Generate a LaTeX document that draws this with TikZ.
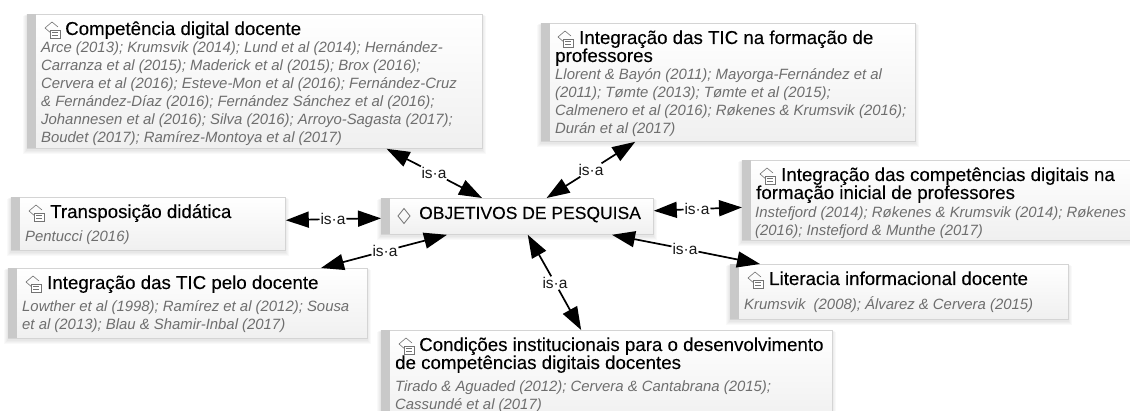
\documentclass[tikz,border=0pt]{standalone}
\usepackage{fontspec}
\setmainfont{Liberation Sans}
\newfontface\titlefont[FakeBold=0.12]{Liberation Sans}
\usetikzlibrary{arrows.meta}
\definecolor{barc}{HTML}{C9C9C9}
\definecolor{edgec}{HTML}{D4D4D4}
\definecolor{bodyc}{HTML}{6E6E6E}
\tikzset{
  x=1pt,y=-1pt,
  boxbase/.style={rectangle,draw=edgec,line width=0.8pt,top color=white,bottom color=black!6,anchor=north west,inner sep=0pt},
  softshadow/.style={fill=black,opacity=0.025,draw=none},
  leftbar/.style={fill=barc,draw=none},
  titletext/.style={anchor=base west,inner sep=0pt,font=\titlefont\fontsize{18.7}{18}\selectfont,text=black},
  objtext/.style={anchor=base west,inner sep=0pt,font=\titlefont\fontsize{17.5}{18}\selectfont,text=black},
  bodytext/.style={anchor=base west,inner sep=0pt,font=\fontsize{14.9}{18}\selectfont\itshape,text=bodyc},
  isalabel/.style={fill=white,inner sep=0.8pt,font=\fontsize{15.5}{16}\selectfont,text=black!90},
  isa/.style={-{Triangle[length=23pt,width=16pt]},line width=1.7pt,black},
  iconline/.style={draw=black!55,line width=0.6pt}
}
% #1 name, #2 x, #3 y, #4 width, #5 height
\newcommand{\mybox}[5]{%
  \foreach \d in {1,2,3,4}{\fill[softshadow] (#2-\d,#3+\d*0.5) rectangle (#2+#4+\d,#3+#5+\d+2);}
  \node[boxbase,minimum width=#4pt,minimum height=#5pt] (#1) at (#2,#3) {};
  \fill[leftbar] (#2,#3) rectangle (#2+9,#3+#5);
}
\newcommand{\myicon}[2]{%
  \draw[iconline] (#1+9,#2+11) -- (#1+2,#2+5) -- (#1+9,#2-1) -- (#1+15,#2+4);
  \draw[iconline,fill=white] (#1+7,#2+7) rectangle (#1+17,#2+15);
  \draw[iconline] (#1+9,#2+9.5) -- (#1+15,#2+9.5) (#1+9,#2+12) -- (#1+15,#2+12);
}
\newcommand{\mylines}[1]{\vtop{\halign{##\hfil\cr #1\crcr}}}
\begin{document}
\begin{tikzpicture}
\useasboundingbox[fill=white] (0,0) rectangle (1130,411);
\clip (0,0) rectangle (1130,411);

\mybox{comp}{27}{14}{455}{134}
\mybox{transp}{11}{197}{274}{53}
\mybox{ticdoc}{8}{268}{359}{70}
\mybox{obj}{381}{198}{272}{36}
\mybox{ticform}{541}{23}{374}{118}
\mybox{intcomp}{742}{160}{400}{80}
\mybox{liter}{730}{264}{338}{55}
\mybox{cond}{381}{330}{451}{92}

\myicon{43}{23}
\node[titletext] (compT) at (65,35) {Competência digital docente};
\node[bodytext] (compB) at (41,53) {\mylines{Arce (2013); Krumsvik (2014); Lund et al (2014); Hernández-\cr Carranza et al (2015); Maderick et al (2015); Brox (2016);\cr Cervera et al (2016); Esteve-Mon et al (2016); Fernández-Cruz\cr \& Fernández-Díaz (2016); Fernández Sánchez et al (2016);\cr Johannesen et al (2016); Silva (2016); Arroyo-Sagasta (2017);\cr Boudet (2017); Ramírez-Montoya et al (2017)}};

\myicon{27}{206}
\node[titletext] (transpT) at (50,218) {Transposição didática};
\node[bodytext] (transpB) at (25,242) {Pentucci (2016)};

\myicon{24}{277}
\node[titletext] (ticdocT) at (47,289) {Integração das TIC pelo docente};
\node[bodytext] (ticdocB) at (22,312) {\mylines{Lowther et al (1998); Ramírez et al (2012); Sousa\cr et al (2013); Blau \& Shamir-Inbal (2017)}};

\draw[line width=0.8pt,draw=black!55] (404,208.5) -- (410,216) -- (404,223.5) -- (398,216) -- cycle;
\node[objtext] (objT) at (419,219) {OBJETIVOS DE PESQUISA};

\myicon{556}{32}
\node[titletext] (ticformT) at (579,44) {\mylines{Integração das TIC na formação de\cr \kern-24pt professores}};
\node[bodytext] (ticformB) at (555,80) {\mylines{Llorent \& Bayón (2011); Mayorga-Fernández et al\cr (2011); Tømte (2013); Tømte et al (2015);\cr Calmenero et al (2016); Røkenes \& Krumsvik (2016);\cr Durán et al (2017)}};

\myicon{758}{169}
\node[titletext] (intcompT) at (781,181) {\mylines{Integração das competências digitais na\cr \kern-25pt formação inicial de professores}};
\node[bodytext] (intcompB) at (755,218) {\mylines{Instefjord (2014); Røkenes \& Krumsvik (2014); Røkenes\cr (2016); Instefjord \& Munthe (2017)}};

\myicon{746}{273}
\node[titletext] (literT) at (769,285) {Literacia informacional docente};
\node[bodytext] (literB) at (744,310) {Krumsvik~~(2008); Álvarez \& Cervera (2015)};

\myicon{397}{339}
\node[titletext] (condT) at (419,351) {\mylines{Condições institucionais para o desenvolvimento\cr \kern-24pt de competências digitais docentes}};
\node[bodytext] (condB) at (395,391.5) {\mylines{Tirado \& Aguaded (2012); Cervera \& Cantabrana (2015);\cr Cassundé et al (2017)}};

\node[isalabel] (l1) at (434,173) {is·a};
\node[isalabel] (l2) at (591,170) {is·a};
\node[isalabel] (l3) at (697,209) {is·a};
\node[isalabel] (l4) at (685,249) {is·a};
\node[isalabel] (l5) at (555,283) {is·a};
\node[isalabel] (l6) at (385,251) {is·a};
\node[isalabel] (l7) at (333,219) {is·a};

\draw[isa] (l1) -- (comp);
\draw[isa] (l1) -- (obj);
\draw[isa] (l2) -- (ticform);
\draw[isa] (l2) -- (obj);
\draw[isa] (l3) -- (intcomp);
\draw[isa] (l3) -- (obj);
\draw[isa] (l4) -- (liter);
\draw[isa] (l4) -- (obj);
\draw[isa] (l5) -- (cond);
\draw[isa] (l5) -- (obj);
\draw[isa] (l6) -- (ticdoc);
\draw[isa] (l6) -- (obj);
\draw[isa] (l7) -- (transp);
\draw[isa] (l7) -- (obj);
\end{tikzpicture}
\end{document}
